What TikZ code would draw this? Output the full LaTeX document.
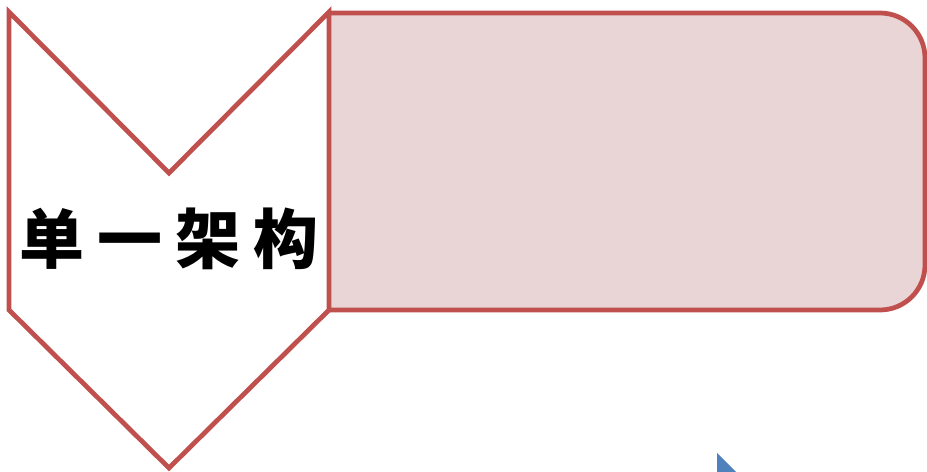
\documentclass[tikz,border=0pt]{standalone}
\usepackage{fontspec}
\newfontfamily\cjkfont{Noto Sans CJK SC}
\definecolor{boxred}{HTML}{C0504D}
\definecolor{boxpink}{HTML}{E9D5D5}
\definecolor{tipblue}{HTML}{4F81BD}
\tikzset{
  outline/.style={draw=boxred, line width=2.7pt, line join=miter},
  archlabel/.style={font=\cjkfont\bfseries\fontsize{37}{40}\selectfont, inner sep=0pt}
}

\begin{document}
\begin{tikzpicture}[x=0.02cm, y=-0.02cm]
  \useasboundingbox (0,0) rectangle (927,472);
  \clip (0,0) rectangle (927,472);

  % ── content box, rounded on the right ──
  \fill[boxpink, rounded corners=0.9cm] (329,13) -- (925,13) -- (925,310) -- (329,310) -- cycle;
  \fill[boxpink] (329,13) rectangle (360,310);
  \draw[outline, rounded corners=0.9cm] (329,13) -- (925,13) -- (925,310) -- (329,310);

  % ── chevron ──
  \coordinate (tl) at (9,12);
  \coordinate (notch) at (169,173);
  \coordinate (tr) at (329,12);
  \coordinate (br) at (329,310);
  \coordinate (tip) at (169,468);
  \coordinate (bl) at (9,310);
  \draw[outline, fill=white] (tl) -- (notch) -- (tr) -- (br) -- (tip) -- (bl) -- cycle;
  \node[archlabel] (arch) at (169,239) {单\hspace{0.26cm}一\hspace{0.26cm}架\hspace{0.26cm}构};

  % ── blue tip at bottom ──
  \fill[tipblue] (717,453) -- (750,486) -- (717,486) -- cycle;
\end{tikzpicture}
\end{document}
